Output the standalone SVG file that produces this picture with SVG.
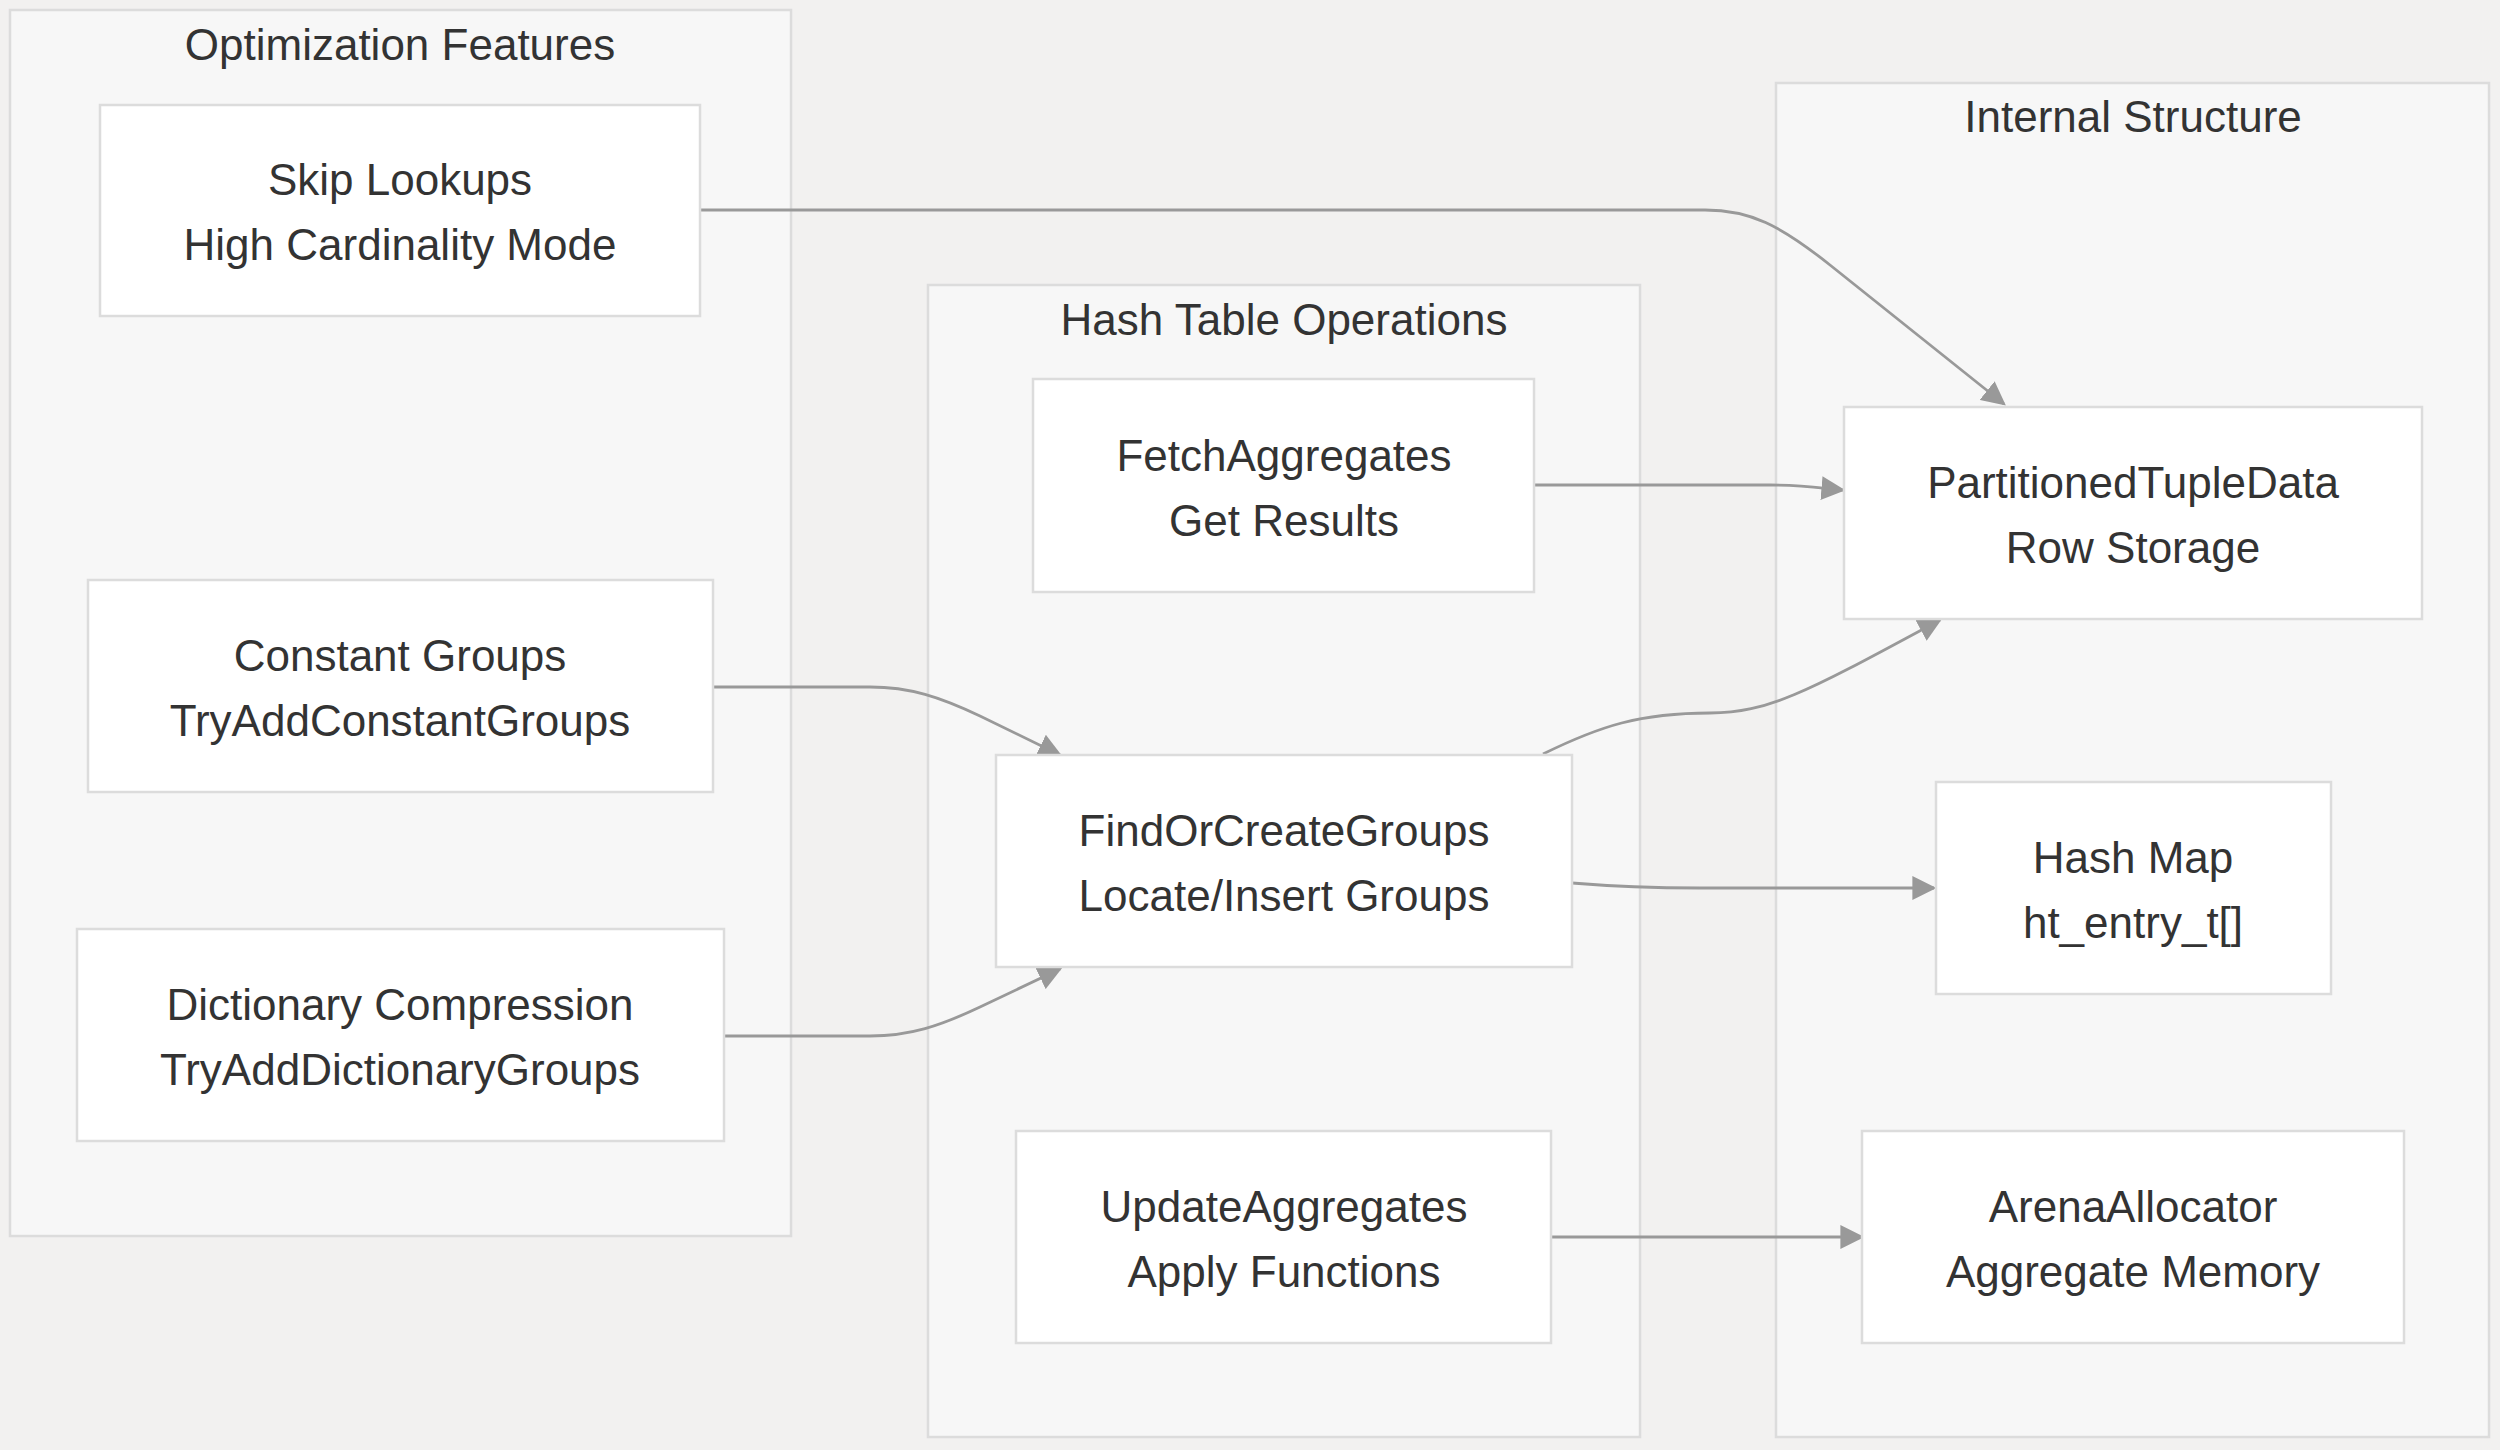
<svg xmlns="http://www.w3.org/2000/svg" width="2500" height="1450" viewBox="0 0 2500 1450">
<defs>
<style>
.bg{fill:#f2f1f0}
.cluster rect{fill:#f7f7f7;stroke:#dcdcdc;stroke-width:2.5}
.node rect{fill:#ffffff;stroke:#dcdcdc;stroke-width:2.5}
text{font-family:"Liberation Sans",Arial,sans-serif;font-size:44px;fill:#333333;text-anchor:middle}
.edge{fill:none;stroke:#999999;stroke-width:2.8}
</style>
<marker id="arrow" viewBox="0 0 10 10" refX="9" refY="5" markerUnits="userSpaceOnUse" markerWidth="24" markerHeight="24" orient="auto">
<path d="M0,0 L10,5 L0,10 z" fill="#999999"/>
</marker>
</defs>
<rect class="bg" x="0" y="0" width="2500" height="1450"/>

<g id="cluster-optimization" class="cluster">
<rect x="10" y="10" width="781" height="1226"/>
<text x="400" y="60">Optimization Features</text>
</g>
<g id="cluster-hashtable" class="cluster">
<rect x="928" y="285" width="712" height="1152"/>
<text x="1284" y="335">Hash Table Operations</text>
</g>
<g id="cluster-internal" class="cluster">
<rect x="1776" y="83" width="713" height="1354"/>
<text x="2133" y="132">Internal Structure</text>
</g>

<g id="edges">
<path class="edge" d="M700,210 H1705 C1750,210 1780,225 1830,265 L2004,404" marker-end="url(#arrow)"/>
<path class="edge" d="M1534,485 H1770 C1805,485 1820,488 1843,490" marker-end="url(#arrow)"/>
<path class="edge" d="M1543,754 C1600,726 1640,713 1710,713 C1770,713 1810,690 1940,620" marker-end="url(#arrow)"/>
<path class="edge" d="M1572,883 C1620,887 1650,888 1700,888 H1934" marker-end="url(#arrow)"/>
<path class="edge" d="M1551,1237 H1862" marker-end="url(#arrow)"/>
<path class="edge" d="M713,687 H870 C910,687 940,697 980,716 L1060,755" marker-end="url(#arrow)"/>
<path class="edge" d="M724,1036 H870 C910,1036 940,1026 980,1007 L1060,969" marker-end="url(#arrow)"/>
</g>

<g id="node-skiplookups" class="node">
<rect x="100" y="105" width="600" height="211"/>
<text x="400" y="195">Skip Lookups</text>
<text x="400" y="260">High Cardinality Mode</text>
</g>
<g id="node-constantgroups" class="node">
<rect x="88" y="580" width="625" height="212"/>
<text x="400" y="671">Constant Groups</text>
<text x="400" y="736">TryAddConstantGroups</text>
</g>
<g id="node-dictionary" class="node">
<rect x="77" y="929" width="647" height="212"/>
<text x="400" y="1020">Dictionary Compression</text>
<text x="400" y="1085">TryAddDictionaryGroups</text>
</g>
<g id="node-fetchaggregates" class="node">
<rect x="1033" y="379" width="501" height="213"/>
<text x="1284" y="471">FetchAggregates</text>
<text x="1284" y="536">Get Results</text>
</g>
<g id="node-findorcreate" class="node">
<rect x="996" y="755" width="576" height="212"/>
<text x="1284" y="846">FindOrCreateGroups</text>
<text x="1284" y="911">Locate/Insert Groups</text>
</g>
<g id="node-updateaggregates" class="node">
<rect x="1016" y="1131" width="535" height="212"/>
<text x="1284" y="1222">UpdateAggregates</text>
<text x="1284" y="1287">Apply Functions</text>
</g>
<g id="node-partitioned" class="node">
<rect x="1844" y="407" width="578" height="212"/>
<text x="2133" y="498">PartitionedTupleData</text>
<text x="2133" y="563">Row Storage</text>
</g>
<g id="node-hashmap" class="node">
<rect x="1936" y="782" width="395" height="212"/>
<text x="2133" y="873">Hash Map</text>
<text x="2133" y="938">ht_entry_t[]</text>
</g>
<g id="node-arena" class="node">
<rect x="1862" y="1131" width="542" height="212"/>
<text x="2133" y="1222">ArenaAllocator</text>
<text x="2133" y="1287">Aggregate Memory</text>
</g>
</svg>
